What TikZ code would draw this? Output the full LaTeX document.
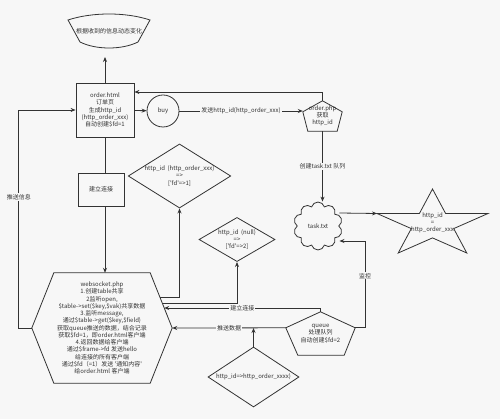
\documentclass[tikz,border=0pt]{standalone}
\usepackage{fontspec}
\setmainfont{Noto Sans CJK SC}
\usetikzlibrary{shapes.geometric,shapes.symbols,arrows.meta}
\definecolor{bg}{RGB}{247,247,247}
\definecolor{ink}{RGB}{51,51,51}
\newcommand{\sq}{\textquotesingle}

\begin{document}
\begin{tikzpicture}[x=1pt,y=-1pt]
    % 样式定义
    \tikzset{every node/.style={font=\fontsize{6}{7.25}\selectfont, text=ink, align=center}}
    \tikzstyle{page}=[draw=ink, line width=0.8pt, inner sep=1pt]
    \tikzstyle{frame}=[inner sep=0pt]
    \tikzstyle{outline}=[draw=ink, line width=0.8pt]
    \tikzstyle{decision}=[diamond, draw=ink, line width=0.8pt, inner sep=0pt, aspect=1.6]
    \tikzstyle{flow}=[-{Stealth[length=5pt,width=4pt]}, line width=0.8pt, ink]
    \tikzstyle{link}=[line width=0.8pt, ink]
    \tikzstyle{tag}=[fill=bg, inner sep=1pt]

    % 背景
    \fill[bg] (0,0) rectangle (500,419);
    \useasboundingbox (0,0) rectangle (500,419);

    % 页面与动态变化
    \node (bn) at (109,31) {根据收到的信息动态变化};
    \draw[outline] (68,20) .. controls (92,12) and (126,12) .. (150,20) -- (138,42)
        .. controls (122,50) and (96,50) .. (80,42) -- cycle;
    \coordinate (bnfoot) at (105,57);

    \node[page, minimum width=58pt, minimum height=54pt] (oh) at (105,110)
        {order.html\\订单页\\生成http\_id\\(http\_order\_xxx)\\自动创建\$fd=1};
    \node[circle, draw=ink, line width=0.8pt, minimum size=32pt] (buy) at (163,111) {buy};

    % order.php
    \node[frame, minimum width=39pt, minimum height=30pt] (php) at (322.5,116) {order.php\\获取\\http\_id};
    \draw[outline] (php.north) -- ([yshift=-11pt]php.north east) -- ([xshift=-5pt]php.south east)
        -- ([xshift=5pt]php.south west) -- ([yshift=-11pt]php.north west) -- cycle;

    % 队列文件与比较
    \node[cloud, cloud puffs=10, cloud ignores aspect, draw=ink, line width=0.8pt,
        minimum width=49pt, minimum height=48pt] (task) at (318,226) {task.txt};
    \node (eq) at (432.5,223) {http\_id\\=\\http\_order\_xxx};
    \coordinate (sl) at (377,213.5);
    \draw[outline] (432.5,189) -- (419.4,213.5) -- (sl) -- (411.3,228.6) -- (398.2,253)
        -- (432.5,237.9) -- (466.8,253) -- (453.7,228.6) -- (488,213.5) -- (445.6,213.5) -- cycle;

    % 建立连接
    \node[page, minimum width=46pt, minimum height=33pt] (lj) at (101,189.5) {建立连接};
    \node[decision, minimum width=101pt, minimum height=62pt] (dm1) at (179.5,176)
        {http\_id\ \ (http\_order\_xxx)\\=>\\{[}\sq fd\sq=>1{]}};
    \node[decision, minimum width=76pt, minimum height=43pt] (dm2) at (237,239.5)
        {http\_id\ \ (null)\\=>\\{[}\sq fd\sq=>2{]}};
    \node[decision, minimum width=91pt, minimum height=60pt] (dm3) at (253.5,377)
        {http\_id=>http\_order\_xxxx)};

    % websocket.php
    \node[frame, minimum width=140pt, minimum height=110pt] (ws) at (102,328)
        {websocket.php\\1.创建table共享\\2监听open,\\\$table->set(\$key,\$vak)共享数据\\3.监听message,\\
         通过\$table->get(\$key,\$field)\\获取queue推送的数据，结合记录\\获取\$fd=1，即order.html客户端\\
         4.返回数据给客户端\\通过\$frame->fd 发送hello\\给连接的所有客户端\\
         通过\$fd（=1）发送 \sq 通知内容\sq\\给order.html 客户端};
    \draw[outline] (ws.west) -- ([xshift=22pt]ws.north west) -- ([xshift=-22pt]ws.north east)
        -- (ws.east) -- ([xshift=-22pt]ws.south east) -- ([xshift=22pt]ws.south west) -- cycle;

    % queue
    \node[frame, minimum width=69pt, minimum height=43pt] (queue) at (320.5,333.5) {queue\\处理队列\\自动创建\$fd=2};
    \draw[outline] (queue.north) -- ([yshift=-16pt]queue.north east) -- ([xshift=-11pt]queue.south east)
        -- ([xshift=12pt]queue.south west) -- ([yshift=-16pt]queue.north west) -- cycle;

    % 连线
    \draw[flow] (oh.north) -- (bnfoot);
    \draw[flow] (oh) -- (buy);
    \draw[flow] (buy) -- (buy -| php.west) node[tag, midway] {发送http\_id(http\_order\_xxx)};
    \draw[flow] (php.north) |- ([yshift=18pt]oh.east);
    \draw[flow] (php.south) -- (php.south |- task.north) node[tag, midway] {创建task.txt 队列};
    \draw[flow] ([yshift=13pt]task.east) -- (sl);
    \draw[flow] ([yshift=-16pt]queue.north east) -- ++(10,0) |- ([yshift=-15pt]task.east) node[tag, pos=0.3] {监控};
    \draw[flow] (queue.north) |- ([xshift=-8pt,yshift=20pt]ws.east) node[tag, pos=0.75] {建立连接};
    \draw[flow] ([yshift=-16pt]queue.north west) -- (ws.east) node[tag, midway] {推送数据};
    \draw[flow] (dm3.north) -- (dm3.north |- ws.east);
    \draw[flow] ([xshift=-12.4pt,yshift=31pt]ws.east) -| (dm1.south);
    \draw[flow] ([xshift=-10pt,yshift=25pt]ws.east) -| (dm2.south);
    \draw[flow] (ws.west) -- ++(-13,0) |- (oh.west) node[tag, pos=0.3] {推送信息};
    \draw[link] (oh.south) -- (oh.south |- lj.north);
    \draw[flow] (oh.south |- lj.south) -- (oh.south |- ws.north);
\end{tikzpicture}
\end{document}
